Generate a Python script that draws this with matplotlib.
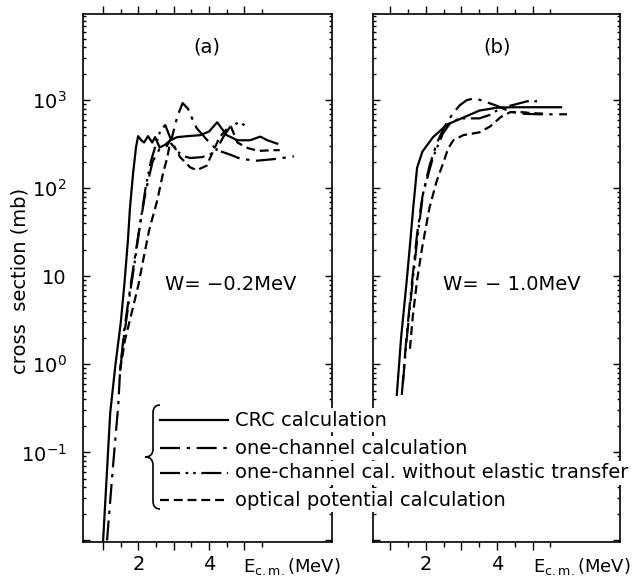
import numpy as np
import matplotlib
matplotlib.use("Agg")
import matplotlib.pyplot as plt
from matplotlib.ticker import LogLocator, FixedLocator, FuncFormatter, NullFormatter
from matplotlib.lines import Line2D
from matplotlib.path import Path
from matplotlib.patches import PathPatch

plt.rcParams['font.family'] = ['DejaVu Sans']
plt.rcParams['mathtext.fontset'] = 'dejavusans'

# ---------------- data ----------------
# panel (a): W = -0.2 MeV
crc_a_E = [1.0, 1.2, 1.35, 1.5, 1.6, 1.7, 1.76, 1.85, 1.93, 1.99, 2.08, 2.16, 2.27, 2.39, 2.47, 2.6, 2.75, 2.9,
           3.1, 3.4, 3.75, 4.0, 4.12, 4.23, 4.35, 4.5, 4.8, 5.16, 5.45, 5.65, 5.93]
crc_a = [0.01, 0.28, 1.0, 3.0, 8.0, 25, 60, 150, 290, 390, 350, 330, 390, 330, 380, 290, 310, 350,
         380, 390, 400, 440, 500, 560, 480, 400, 350, 350, 385, 350, 320]

oc_a_E = [1.11, 1.28, 1.43, 1.48, 1.6, 1.8, 2.0, 2.2, 2.4, 2.6, 2.8, 2.95, 3.1, 3.25, 3.4, 3.55, 3.65, 3.95,
          4.23, 4.6, 4.9, 5.35, 5.9, 6.4]
oc_a = [0.01, 0.07, 0.35, 0.85, 2.5, 9, 30, 90, 200, 280, 300, 380, 650, 925, 800, 580, 480, 350,
        270, 240, 215, 205, 215, 230]

nt_a_E = [1.48, 1.6, 1.75, 1.9, 2.05, 2.2, 2.35, 2.5, 2.62, 2.76, 2.85, 2.95, 3.1, 3.3, 3.46, 3.8, 4.17,
          4.4, 4.6, 4.85, 5.0, 5.1]
nt_a = [0.85, 2.2, 6, 15, 40, 100, 200, 320, 450, 520, 420, 330, 260, 230, 220, 225, 255,
        380, 500, 560, 520, 470]

op_a_E = [1.48, 1.62, 1.85, 2.0, 2.1, 2.3, 2.53, 2.7, 2.8, 2.9, 3.05, 3.18, 3.46, 3.65, 3.93, 4.1, 4.3,
          4.5, 4.62, 4.8, 5.1, 5.4, 5.8, 6.0]
op_a = [0.85, 1.9, 4.5, 8, 13, 33, 72, 150, 210, 330, 280, 225, 173, 160, 180, 255, 380,
        470, 500, 330, 285, 265, 270, 270]

# panel (b): W = -1.0 MeV
crc_b_E = [1.18, 1.3, 1.46, 1.56, 1.64, 1.75, 1.9, 2.2, 2.6, 3.0, 3.5, 4.0, 4.5, 5.0, 5.8]
crc_b = [0.45, 2.0, 9, 25, 59, 170, 260, 380, 530, 620, 760, 820, 830, 830, 830]

oc_b_E = [1.32, 1.45, 1.6, 1.75, 1.9, 2.1, 2.3, 2.5, 2.75, 2.96, 3.15, 3.38, 3.7, 4.0, 4.37, 4.7, 5.2, 5.97]
oc_b = [0.45, 2.0, 8, 30, 80, 180, 320, 480, 700, 880, 1000, 1050, 950, 860, 740, 700, 690, 690]

nt_b_E = [1.35, 1.45, 1.6, 1.75, 1.92, 2.2, 2.48, 2.7, 2.96, 3.2, 3.5, 3.8, 4.1, 4.45, 4.85, 5.2]
nt_b = [0.6, 1.8, 7, 25, 88, 225, 420, 560, 620, 620, 620, 680, 810, 880, 970, 970]

op_b_E = [1.55, 1.63, 1.75, 1.9, 2.1, 2.3, 2.48, 2.62, 2.77, 3.05, 3.5, 3.8, 4.1, 4.37, 4.7, 5.0, 5.4]
op_b = [1.5, 3.5, 9, 22, 60, 120, 190, 280, 350, 400, 430, 500, 640, 730, 730, 710, 700]

legend_labels = ["CRC calculation", "one-channel calculation",
                 "one-channel cal. without elastic transfer", "optical potential calculation"]
panel_tags = ["(a)", "(b)"]
w_labels = ["W= \u22120.2MeV", "W= \u2212 1.0MeV"]
x_major = [1, 2, 3, 4, 5]
x_major_labels = ["", "2", "", "4", ""]
x_minor = [1.5, 2.5, 3.5, 4.5, 5.5]
y_labels = {1e3: r"$10^3$", 1e2: r"$10^2$", 1e1: "10", 1e0: r"$10^0$", 1e-1: r"$10^{-1}$"}

# ---------------- figure ----------------
W, H = 637, 581
fig = plt.figure(figsize=(W / 100, H / 100), dpi=100)


def fx(x):
    return x / W


def fy(y):
    return 1 - y / H


styles = [
    dict(linestyle='-'),
    dict(linestyle=(0, (9, 3, 1.5, 3))),
    dict(linestyle=(0, (9, 2.5, 1.2, 2.2, 1.2, 2.5))),
    dict(linestyle=(0, (4, 2.2))),
]
LW = 1.6

ax_a = fig.add_axes([fx(83), fy(542), fx(332) - fx(83), fy(14) - fy(542)])
ax_b = fig.add_axes([fx(373), fy(542), fx(620) - fx(373), fy(14) - fy(542)])

data = [
    (ax_a, [(crc_a_E, crc_a), (oc_a_E, oc_a), (nt_a_E, nt_a), (op_a_E, op_a)], (0.43, 7.48)),
    (ax_b, [(crc_b_E, crc_b), (oc_b_E, oc_b), (nt_b_E, nt_b), (op_b_E, op_b)], (0.51, 7.46)),
]

for ax, series, xl in data:
    for (e, v), st in zip(series, styles):
        ax.plot(e, v, color='black', lw=LW, **st)
    ax.set_yscale('log')
    ax.set_xlim(*xl)
    ax.set_ylim(0.0096, 9500)
    ax.xaxis.set_major_locator(FixedLocator(x_major))
    ax.xaxis.set_minor_locator(FixedLocator(x_minor))
    ax.set_xticklabels(x_major_labels)
    ax.yaxis.set_major_locator(LogLocator(base=10, numticks=20))
    ax.yaxis.set_minor_locator(LogLocator(base=10, subs=np.arange(2, 10), numticks=20))
    ax.tick_params(axis='x', which='both', direction='out', top=True, bottom=True,
                   labelsize=14, pad=4, width=1.0)
    ax.tick_params(axis='x', which='major', length=5.5)
    ax.tick_params(axis='x', which='minor', length=3.5)
    ax.tick_params(axis='y', which='both', direction='in', left=True, right=True,
                   labelsize=14, pad=12, width=1.0)
    ax.tick_params(axis='y', which='major', length=5)
    ax.tick_params(axis='y', which='minor', length=2.5)
    for s in ax.spines.values():
        s.set_linewidth(1.2)

ax_a.yaxis.set_major_formatter(FuncFormatter(
    lambda v, p: next((lab for k, lab in y_labels.items() if abs(np.log10(v) - np.log10(k)) < 1e-6), "")))
ax_a.yaxis.set_minor_formatter(NullFormatter())
ax_b.yaxis.set_major_formatter(NullFormatter())
ax_b.yaxis.set_minor_formatter(NullFormatter())

# panel texts
fig.text(fx(207), fy(47), panel_tags[0], fontsize=14, ha='center', va='center')
fig.text(fx(497), fy(47), panel_tags[1], fontsize=14, ha='center', va='center')
fig.text(fx(165), fy(285), w_labels[0], fontsize=14, ha='left', va='center')
fig.text(fx(443), fy(285), w_labels[1], fontsize=14, ha='left', va='center')

# axis titles
fig.text(fx(20), fy(281), "cross  section (mb)", fontsize=14, rotation=90, ha='center', va='center')
xl_text = r"E$_{\rm c.m.}$(MeV)"
fig.text(fx(243), fy(572), xl_text, fontsize=13, ha='left', va='baseline')
fig.text(fx(533), fy(572), xl_text, fontsize=13, ha='left', va='baseline')

# legend
rows = [420, 448, 473, 500]
for yy, lab, st in zip(rows, legend_labels, styles):
    fig.text(fx(235), fy(yy), lab, fontsize=14, ha='left', va='center', zorder=5,
             bbox=dict(facecolor='white', edgecolor='none', pad=1.6))
    ln = Line2D([fx(160), fx(228)], [fy(yy), fy(yy)], transform=fig.transFigure,
                color='black', lw=LW, zorder=6, **st)
    fig.add_artist(ln)

# brace
top, mid, bot = 405, 457, 509
verts = [(160, top), (153, top), (153, top + 8),
         (153, mid - 8),
         (153, mid), (145, mid),
         (153, mid), (153, mid + 8),
         (153, bot - 8),
         (153, bot), (160, bot)]
codes = [Path.MOVETO, Path.CURVE3, Path.CURVE3, Path.LINETO, Path.CURVE3, Path.CURVE3,
         Path.CURVE3, Path.CURVE3, Path.LINETO, Path.CURVE3, Path.CURVE3]
verts = [(fx(x), fy(y)) for x, y in verts]
fig.add_artist(PathPatch(Path(verts, codes), transform=fig.transFigure, facecolor='none',
                         edgecolor='black', lw=1.2, zorder=6))

fig.savefig("out.png", dpi=100)
